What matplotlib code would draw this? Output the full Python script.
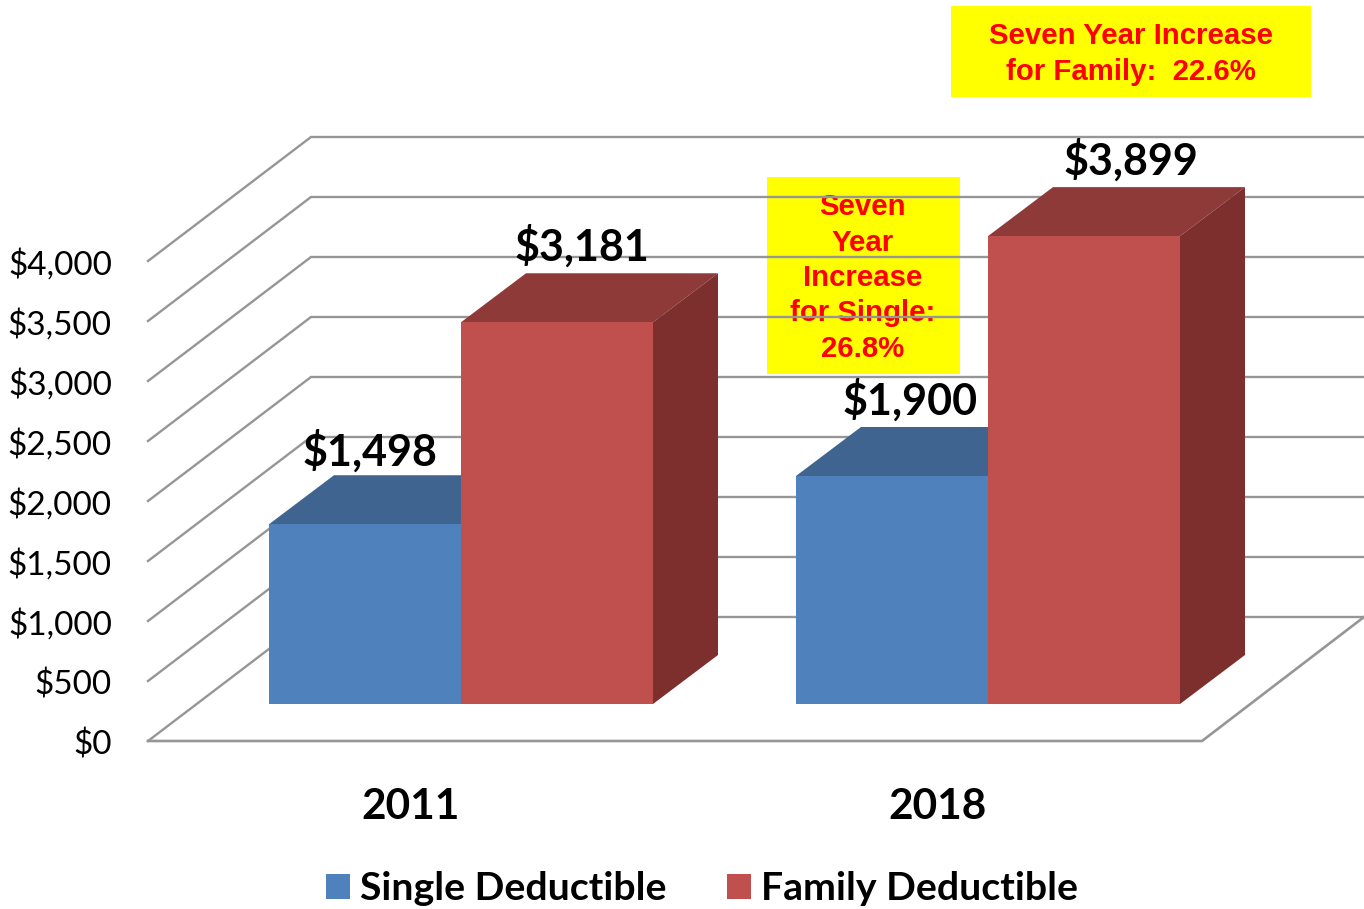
import matplotlib
matplotlib.use("Agg")
from matplotlib import pyplot as plt
from matplotlib.patches import Polygon, Rectangle, Patch
from matplotlib.transforms import ScaledTranslation

years = ["2011", "2018"]
single = [1498, 1900]
family = [3181, 3899]
yticks = [0, 500, 1000, 1500, 2000, 2500, 3000, 3500, 4000]
ylabels = ["$0", "$500", "$1,000", "$1,500", "$2,000", "$2,500", "$3,000", "$3,500", "$4,000"]

W, H = 1364, 909
PX_PER_DOLLAR = 0.12
FLOOR_Y = 741
TOP_Y = 137
LEFT_X = 148


def dollars(py):
    # pixel row -> value on the y axis
    return (FLOOR_Y - py) / PX_PER_DOLLAR


plt.rcParams["font.family"] = ["Lato", "DejaVu Sans"]
fig = plt.figure(figsize=(W / 100, H / 100), dpi=100)
ax = fig.add_axes([LEFT_X / W, 1 - FLOOR_Y / H, (W - LEFT_X) / W, (FLOOR_Y - TOP_Y) / H])
ax.set_xlim(LEFT_X, W)
ax.set_ylim(0, dollars(TOP_Y))
ax.patch.set_visible(False)
for s in ax.spines.values():
    s.set_visible(False)

# oblique depth of the chart box and of the bars
wall_dx, wall_dy = 163, dollars(617)
bar_dx, bar_dy = 65, 49 / PX_PER_DOLLAR
base = dollars(704)
bar_w = 192
centers = [461, 988]

grid = "#969696"
for v in yticks:
    ax.plot([LEFT_X, LEFT_X + wall_dx, W], [v, v + wall_dy, v + wall_dy], color=grid, lw=1.7,
            zorder=2, solid_joinstyle="miter", clip_on=False)
# floor
ax.plot([LEFT_X, 1202, W], [0, 0, wall_dy], color=grid, lw=1.9, zorder=2, clip_on=False)


def bar3d(x0, value, front, top, side):
    x1 = x0 + bar_w
    y1 = base + value
    ax.add_patch(Polygon([(x0, y1), (x0 + bar_dx, y1 + bar_dy), (x1 + bar_dx, y1 + bar_dy), (x1, y1)],
                         fc=top, ec="none", zorder=3))
    ax.add_patch(Polygon([(x1, base), (x1 + bar_dx, base + bar_dy), (x1 + bar_dx, y1 + bar_dy), (x1, y1)],
                         fc=side, ec="none", zorder=3))
    ax.add_patch(Rectangle((x0, base), bar_w, value, fc=front, ec="none", zorder=3))


for c, s, f in zip(centers, single, family):
    bar3d(c - bar_w, s, "#4F81BD", "#3E648F", "#3E648F")
    bar3d(c, f, "#C0504D", "#8E3A38", "#7C2F2D")

# value labels, placed by hand like the original
for x, py, v in [(370, 451, single[0]), (910, 400, single[1]), (582, 246, family[0]), (1131, 160, family[1])]:
    ax.text(x, dollars(py), f"${v:,}", ha="center", va="center", fontsize=31, fontweight="bold",
            color="black", zorder=5)

ax.set_yticks(yticks, ylabels, fontsize=24, color="black")
ax.set_xticks([c - 50 for c in centers], years, fontsize=30.5, fontweight="bold", color="black")
ax.tick_params(axis="y", length=0, pad=26)
ax.tick_params(axis="x", length=0, pad=33.5)
for lab in ax.get_yticklabels():
    lab.set_transform(lab.get_transform() + ScaledTranslation(0, -1 / 100, fig.dpi_scale_trans))

# note boxes, the gridlines run over the single one
ax.add_patch(Rectangle((767, dollars(374)), 193, dollars(177) - dollars(374), fc="#FFFF00", ec="none",
                       zorder=1, clip_on=False))
ax.text(863, dollars(278), "Seven\nYear\nIncrease\nfor Single:\n26.8%", ha="center", va="center",
        color="#FF0000", fontsize=21.2, fontweight="bold", family="Liberation Sans", linespacing=1.33, zorder=1.5)
ax.add_patch(Rectangle((951, dollars(97)), 360, dollars(6) - dollars(97), fc="#FFFF00", ec="none",
                       zorder=1, clip_on=False))
ax.text(1131, dollars(54), "Seven Year Increase\nfor Family:  22.6%", ha="center", va="center",
        color="#FF0000", fontsize=21.2, fontweight="bold", family="Liberation Sans", linespacing=1.33, zorder=1.5)

handles = [Patch(fc="#4F81BD", ec="none", label="Single Deductible"),
           Patch(fc="#C0504D", ec="none", label="Family Deductible")]
fig.legend(handles=handles, loc="center", bbox_to_anchor=(702 / W, 1 - 889 / H), ncol=2, frameon=False,
           prop={"weight": "bold", "size": 28.3}, handlelength=0.61, handleheight=0.61,
           handletextpad=0.25, columnspacing=1.55, borderpad=0)

fig.savefig("out.png", dpi=100)
